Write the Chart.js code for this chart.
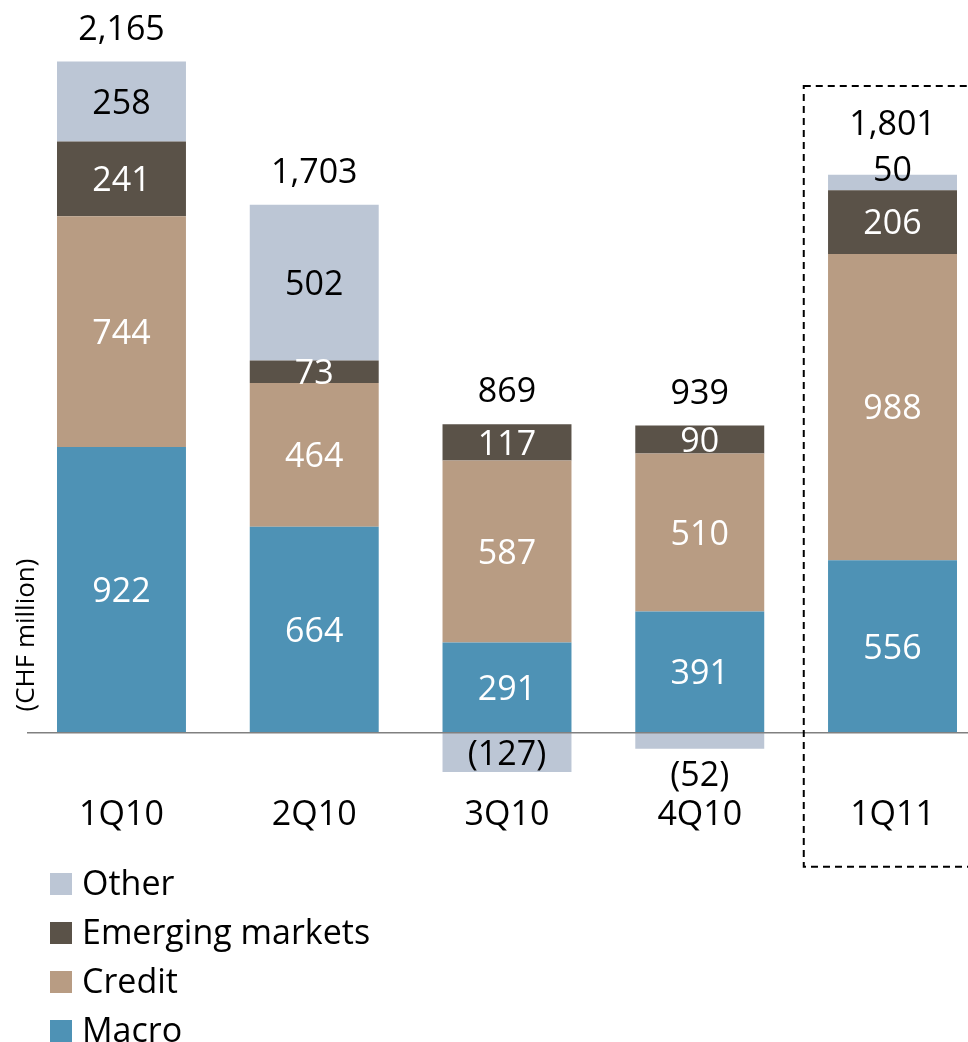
<!DOCTYPE html>
<html><head><meta charset="utf-8">
<script src="https://cdn.jsdelivr.net/npm/chart.js@4.4.0/dist/chart.umd.min.js"></script>
<style>
html,body{margin:0;padding:0;background:#fff;overflow:hidden;width:968px;height:1042px}
#wrap{position:relative;width:968px;height:1042px;overflow:hidden}
canvas{display:block}
</style></head>
<body><div id="wrap"><canvas id="c" width="990" height="1042" style="width:990px;height:1042px"></canvas></div>
<script>
const categories = ['1Q10', '2Q10', '3Q10', '4Q10', '1Q11'];
const macro = [922, 664, 291, 391, 556];
const credit = [744, 464, 587, 510, 988];
const emerging = [241, 73, 117, 90, 206];
const other = [258, 502, -127, -52, 50];
const totals = [2165, 1703, 869, 939, 1801];
const seriesNames = ['Macro', 'Credit', 'Emerging markets', 'Other'];
const seriesColors = ['#4e92b5', '#b89c83', '#5a5248', '#bcc6d5'];
const labelColors = ['#ffffff', '#ffffff', '#ffffff', '#000000'];
const yTitle = '(CHF million)';
const highlightIndex = 4;

const FONT = '"Open Sans", "Noto Sans", sans-serif';
const LABEL_SIZE = 34;

function fmt(v) {
  const s = Math.abs(v).toLocaleString('en-US');
  return v < 0 ? '(' + s + ')' : s;
}

const overlay = {
  id: 'overlay',
  afterDatasetsDraw(chart) {
    const ctx = chart.ctx;
    const xs = chart.scales.x, ys = chart.scales.y;
    const y0 = ys.getPixelForValue(0);
    ctx.save();
    // baseline
    ctx.strokeStyle = '#808080';
    ctx.lineWidth = 1.5;
    ctx.beginPath();
    ctx.moveTo(27, y0);
    ctx.lineTo(chart.width, y0);
    ctx.stroke();

    ctx.font = LABEL_SIZE + 'px ' + FONT;
    ctx.textAlign = 'center';
    ctx.textBaseline = 'alphabetic';
    const capHalf = LABEL_SIZE * 0.357;
    const topLabelY = [];
    chart.data.datasets.forEach((ds, d) => {
      const meta = chart.getDatasetMeta(d);
      meta.data.forEach((bar, i) => {
        const v = ds.data[i];
        const top = Math.min(bar.y, bar.base), bottom = Math.max(bar.y, bar.base);
        const h = bottom - top;
        let cy, color;
        if (h >= 20) { cy = (top + bottom) / 2; color = labelColors[d]; }
        else if (v > 0) { cy = top - 6; color = '#000'; topLabelY[i] = cy; }
        else { cy = bottom + 25; color = '#000'; }
        ctx.fillStyle = color;
        ctx.fillText(fmt(v), bar.x, cy + capHalf);
      });
    });
    // totals
    ctx.fillStyle = '#000';
    totals.forEach((t, i) => {
      let top = y0;
      chart.data.datasets.forEach((ds, d) => {
        const bar = chart.getDatasetMeta(d).data[i];
        top = Math.min(top, bar.y, bar.base);
      });
      const cy = topLabelY[i] !== undefined ? topLabelY[i] - 46 : top - 34;
      const x = xs.getPixelForValue(i);
      ctx.fillText(fmt(t), x, cy + capHalf);
    });

    // dashed highlight box
    const cw = xs.width / categories.length;
    const hx = xs.getPixelForValue(highlightIndex);
    ctx.strokeStyle = '#000';
    ctx.lineWidth = 2;
    ctx.setLineDash([7, 5]);
    ctx.beginPath();
    ctx.rect(hx - cw * 0.4605, y0 - 646.7, cw, 646.7 + 134);
    ctx.stroke();
    ctx.setLineDash([]);

    // y title
    ctx.save();
    ctx.translate(27, 635);
    ctx.rotate(-Math.PI / 2);
    ctx.font = '26px ' + FONT;
    ctx.textBaseline = 'middle';
    ctx.fillText(yTitle, 0, 0);
    ctx.restore();

    // legend
    ctx.textAlign = 'left';
    ctx.textBaseline = 'alphabetic';
    ctx.font = '34px ' + FONT;
    const order = [3, 2, 1, 0];
    order.forEach((d, k) => {
      const base = 895 + k * 49;
      ctx.fillStyle = seriesColors[d];
      ctx.fillRect(50, base - 22, 22, 22);
      ctx.fillStyle = '#000';
      ctx.fillText(seriesNames[d], 82, base);
    });
    ctx.restore();
  }
};

const seriesData = [macro, credit, emerging, other];
new Chart(document.getElementById('c'), {
  type: 'bar',
  data: {
    labels: categories,
    datasets: seriesData.map((arr, d) => ({
      label: seriesNames[d],
      data: arr,
      backgroundColor: seriesColors[d],
      borderWidth: 0,
      barPercentage: 0.669,
      categoryPercentage: 1,
      stack: 's'
    }))
  },
  options: {
    responsive: false,
    animation: false,
    devicePixelRatio: 1,
    layout: { padding: { top: 50.7, left: 25.1, right: 1.1, bottom: 206.5 } },
    plugins: { legend: { display: false }, tooltip: { enabled: false } },
    scales: {
      x: {
        stacked: true,
        grid: { display: false, drawTicks: false },
        border: { display: false },
        ticks: { color: '#000', padding: 0, font: { size: 34, family: FONT } }
      },
      y: {
        stacked: true,
        display: false,
        min: -200,
        max: 2200
      }
    }
  },
  plugins: [overlay]
});
</script>
</body></html>
